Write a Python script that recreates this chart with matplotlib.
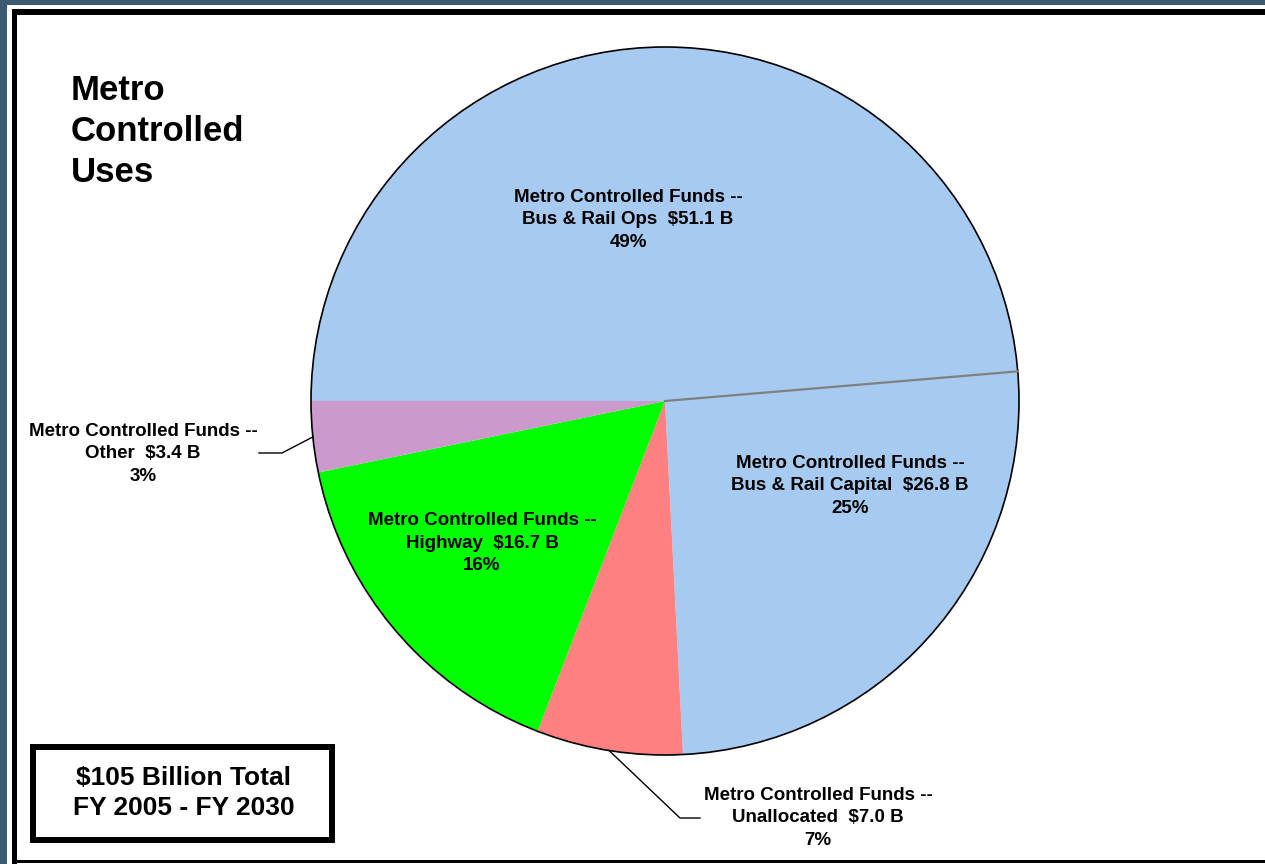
import numpy as np
import matplotlib.pyplot as plt
from matplotlib.patches import Rectangle, Circle

# Data ($ billions)
names = ['Bus & Rail Ops', 'Bus & Rail Capital', 'Unallocated', 'Highway', 'Other']
values = [51.1, 26.8, 7.0, 16.7, 3.4]
pcts = [49, 25, 7, 16, 3]
colors = ['#A6CAF0', '#A6CAF0', '#FF8080', '#00FF00', '#CC99CC']

W, H = 1265, 864
FONT = 'Liberation Sans'

fig = plt.figure(figsize=(W / 100, H / 100), dpi=100, facecolor='#3D5A73')
ax = fig.add_axes([0, 0, 1, 1])

# pie, drawn clockwise from the left side
center = (665, H - 401)
r = 354
wedges, _ = ax.pie(values, colors=colors, startangle=180, counterclock=False,
                   center=center, radius=r,
                   wedgeprops=dict(linewidth=0, edgecolor='none'))
for w in wedges:
    w.set_zorder(2)
ax.set_xlim(0, W)
ax.set_ylim(0, H)
ax.axis('off')

# white page with black frame
ax.add_patch(Rectangle((7, 0), W, H - 5, facecolor='white', edgecolor='none', zorder=0))
ax.add_patch(Rectangle((12, 0), 5, H - 9, facecolor='black', edgecolor='none', zorder=1))
ax.add_patch(Rectangle((12, H - 15), W, 6, facecolor='black', edgecolor='none', zorder=1))
ax.add_patch(Rectangle((12, 1), W, 3, facecolor='black', edgecolor='none', zorder=1))

# outline and the grey split between the two blue slices
ax.add_patch(Circle(center, r, fill=False, edgecolor='black', linewidth=1.2, zorder=3))
split = np.deg2rad(180 - 360 * values[0] / sum(values))
ax.plot([center[0], center[0] + r * np.cos(split)],
        [center[1], center[1] + r * np.sin(split)], color='#808080', lw=1.6, zorder=3)

# slice labels
label_pos = [(628, 220), (850, 486), (818, 818), (482, 543), (143, 454)]
for name, v, p, (lx, ly) in zip(names, values, pcts, label_pos):
    ax.text(lx, H - ly, f'Metro Controlled Funds --\n{name}  ${v:.1f} B\n{p}%',
            ha='center', va='center', fontsize=13.5, fontweight='bold',
            family=FONT, linespacing=1.44, zorder=4)

# leader lines for the outside labels
leaders = {2: [(680, 818), (700, 818)], 4: [(282, 453), (259, 453)]}
for i, pts in leaders.items():
    w = wedges[i]
    mid = np.deg2rad((w.theta1 + w.theta2) / 2)
    xs = [center[0] + r * np.cos(mid)] + [p[0] for p in pts]
    ys = [center[1] + r * np.sin(mid)] + [H - p[1] for p in pts]
    ax.plot(xs, ys, color='black', lw=1.0, zorder=3)

# title
ax.text(71, H - 74, 'Metro\nControlled\nUses', ha='left', va='top',
        fontsize=25, fontweight='bold', family=FONT, linespacing=1.3, zorder=4)

# total box
ax.add_patch(Rectangle((33, H - 840), 299, 93, facecolor='white',
                       edgecolor='black', linewidth=4.3, zorder=4))
ax.text(184, H - 793, '$105 Billion Total\nFY 2005 - FY 2030', ha='center', va='center',
        fontsize=19, fontweight='bold', family=FONT, linespacing=1.36, zorder=5)

fig.savefig('out.png', dpi=100, facecolor=fig.get_facecolor())
